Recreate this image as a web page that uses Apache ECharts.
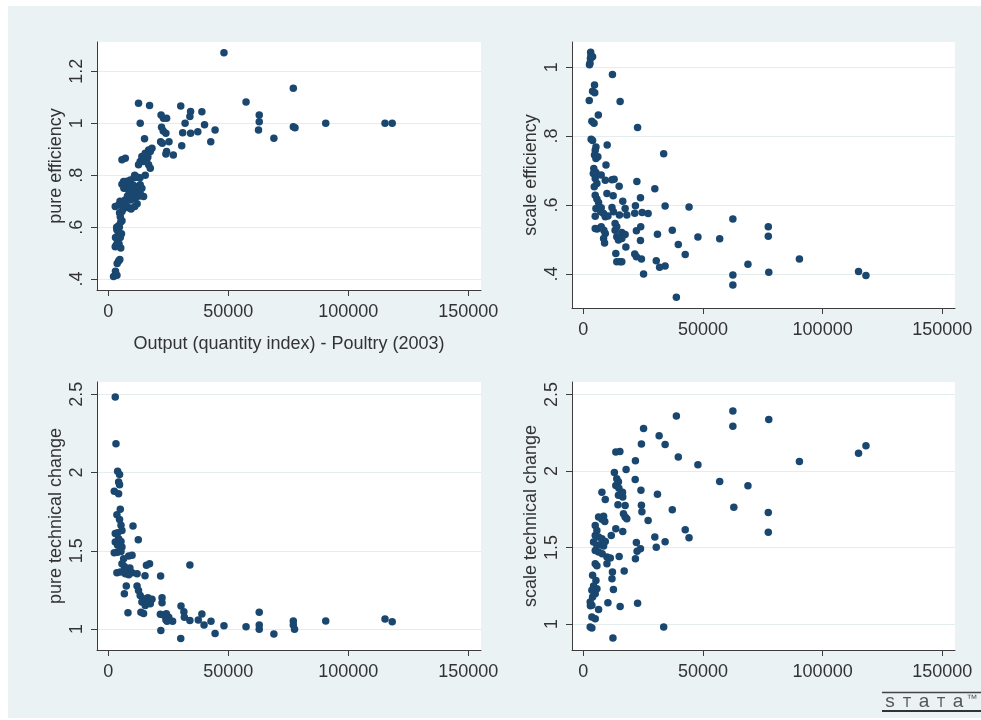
<!DOCTYPE html>
<html><head><meta charset="utf-8">
<script src="https://cdn.jsdelivr.net/npm/echarts@6/dist/echarts.min.js"></script>
<style>html,body{margin:0;padding:0;background:#fff}#c{width:981px;height:720px}</style>
</head><body><div id="c"></div>
<script>
// ---- data ----
const xTitle = 'Output (quantity index) - Poultry (2003)';
const yTitles = ['pure efficiency', 'scale efficiency', 'pure technical change', 'scale technical change'];
const xTicks = [0, 50000, 100000, 150000];
const pureEffTicks = [0.4, 0.6, 0.8, 1, 1.2];
const scaleEffTicks = [0.4, 0.6, 0.8, 1];
const techTicks = [1, 1.5, 2, 2.5];

const pureEff = [
[2200,0.41],[3000,0.43],[3600,0.415],[3700,0.46],[4300,0.47],[4800,0.475],
[2900,0.525],[3300,0.53],[3800,0.54],[4500,0.535],[5200,0.52],[3000,0.56],[4000,0.565],[5000,0.56],[5500,0.575],[3600,0.59],[4200,0.58],[4600,0.6],[3500,0.6],[4300,0.605],[5200,0.62],[5700,0.625],[5000,0.64],[4700,0.655],[5700,0.66],[6200,0.67],
[2900,0.68],[4300,0.685],[5700,0.69],[6700,0.695],[7800,0.68],[8500,0.675],[9500,0.67],[11000,0.68],[12000,0.69],[4900,0.7],[7000,0.705],[9200,0.705],[10500,0.71],[11500,0.715],[13000,0.72],[14700,0.718],[8000,0.72],[9000,0.735],[10200,0.73],[11800,0.74],[13300,0.73],[6500,0.75],[8200,0.745],[9200,0.756],[10600,0.76],[13300,0.763],[14000,0.75],[5700,0.765],[7500,0.77],[6400,0.776],[7800,0.777],[9200,0.782],[10800,0.79],[12200,0.792],[13200,0.79],[11000,0.8],[15400,0.8],
[5700,0.86],[7100,0.865],[12600,0.84],[16800,0.84],[17500,0.827],[13300,0.853],[14700,0.853],[16000,0.859],[14000,0.872],[14700,0.865],[15400,0.885],[16100,0.878],[16800,0.897],[17500,0.891],[18200,0.904],[15000,0.87],[16500,0.87],
[12600,1.077],[17200,1.068],[13300,1.0],[15100,0.94],
[22000,1.032],[23000,1.019],[24300,1.019],[22200,0.985],[22900,0.97],[24000,0.962],[21800,0.929],[22500,0.923],[25300,0.929],[24300,0.891],[24000,0.882],[27100,0.878],
[30200,1.067],[34300,1.045],[34000,1.026],[39000,1.044],[32000,1.0],[40100,0.994],[31000,0.964],[34300,0.962],[37300,0.967],[44500,0.974],[42700,0.929],[30600,0.913],
[48200,1.272],[57400,1.082],[62900,1.032],[62900,1.006],[62600,0.974],[69000,0.942],[77100,1.135],[77100,0.987],[77800,0.983],[90600,1.0],[115300,1.0],[118300,1.0]
];

const scaleEff = [
[3100,1.043],[3200,1.033],[3000,1.025],[2800,1.011],[3900,1.03],[2600,1.007],
[12200,0.979],[4700,0.948],[3900,0.93],[4800,0.926],[2500,0.903],[15400,0.9],[6300,0.861],[3600,0.843],[4500,0.837],
[3300,0.791],[3900,0.787],[10000,0.774],[5300,0.768],[5000,0.759],[4700,0.745],[5300,0.735],[6100,0.74],[9500,0.716],
[4400,0.706],[5300,0.694],[4200,0.691],[7500,0.687],[9200,0.672],[12000,0.673],[12900,0.675],[5000,0.677],[5700,0.662],[4600,0.653],[15000,0.654],[9900,0.633],[12500,0.627],[5000,0.628],[5700,0.617],[6400,0.607],[5300,0.59],[7300,0.58],[7500,0.592],[12000,0.593],[12600,0.58],[16500,0.611],[17500,0.59],[5000,0.567],[8500,0.575],[9200,0.566],[10300,0.568],[15100,0.571],[18200,0.571],
[5000,0.532],[5800,0.53],[7500,0.537],[8600,0.527],[9200,0.517],[13300,0.546],[14000,0.537],[13300,0.527],[16100,0.52],[17500,0.514],[8500,0.503],[8900,0.49],[14000,0.508],[14700,0.498],[16100,0.503],[17800,0.478],[13600,0.459],[14000,0.435],[15400,0.435],[16100,0.435],
[22700,0.825],[22400,0.668],[21800,0.598],[21500,0.576],[22200,0.525],[21500,0.458],[22200,0.45],[23900,0.621],[24000,0.537],[23900,0.497],[24300,0.443],[25200,0.4],[24600,0.578],[27100,0.575],[29900,0.647],[31000,0.515],[30500,0.438],[31900,0.419],[34200,0.423],[33600,0.749],[34200,0.597],[37200,0.527],[39700,0.485],[42600,0.456],[44200,0.594],[38900,0.332],
[47900,0.507],[57000,0.502],[62500,0.559],[62500,0.397],[62500,0.368],[68800,0.428],[77300,0.537],[77300,0.509],[77500,0.405],[90300,0.443],[115000,0.407],[118100,0.395]
];

const pureTech = [
[2900,2.483],[3200,2.185],[3900,2.008],[4700,1.987],[4300,1.94],[4700,1.923],[2500,1.88],[4300,1.865],
[5000,1.765],[3600,1.731],[4700,1.70],[5300,1.663],[10300,1.658],[2900,1.61],[3900,1.616],[5700,1.63],[4300,1.577],[5300,1.56],[2900,1.556],[3900,1.535],[5700,1.524],[12500,1.571],[3900,1.49],[5300,1.496],[2500,1.488],[8500,1.467],[9900,1.471],[6400,1.45],
[5700,1.418],[6700,1.40],[3600,1.36],[5000,1.364],[7100,1.354],[8500,1.347],[9900,1.36],[12000,1.354],[7500,1.38],[9000,1.39],[15900,1.407],[17200,1.418],[15300,1.34],
[7500,1.275],[6700,1.226],[12000,1.275],[12600,1.247],[13300,1.215],[14700,1.194],[16100,1.173],[17500,1.183],[14000,1.173],[15400,1.151],[17500,1.162],[16500,1.2],[18200,1.19],[8200,1.104],[13600,1.108],[14700,1.1],
[21800,1.339],[22400,1.2],[22400,1.168],[21700,1.095],[23000,1.09],[24200,1.098],[25200,1.075],[24000,1.06],[24500,1.05],[26800,1.049],[21900,0.99],
[30300,1.147],[31500,1.111],[31700,1.075],[34000,1.055],[37500,1.058],[34000,1.409],[39000,1.096],[39900,1.026],[42800,1.049],[44500,0.972],[30200,0.94],
[48200,1.021],[57400,1.015],[62900,1.107],[62900,1.026],[62900,0.998],[69000,0.968],[77100,1.051],[77100,1.026],[77600,0.998],[90600,1.051],[115300,1.064],[118300,1.047]
];

const scaleTech = [
[2900,0.98],[3600,0.974],[3600,1.046],[5000,1.035],[6400,1.094],[3000,1.12],[3600,1.122],[2900,1.144],[3900,1.176],[5000,1.198],[3600,1.22],[4300,1.248],[5300,1.285],[3900,1.318],[5700,1.23],[5000,1.394],[5700,1.38],[9900,1.394],[12400,0.909],[10300,1.139],[15400,1.115],[12600,1.226],[12200,1.34],[12000,1.296],[17100,1.346],
[5000,1.481],[6400,1.47],[7900,1.459],[9900,1.438],[11300,1.431],[15000,1.442],[4300,1.536],[5700,1.514],[7100,1.518],[8500,1.51],[5000,1.579],[6400,1.568],[7800,1.557],[9200,1.54],[11700,1.579],[5000,1.644],[5700,1.612],[13600,1.623],[16500,1.605],[6400,1.699],[8500,1.705],[7800,1.684],[9000,1.67],
[7800,1.862],[9200,1.814],[14500,1.78],[17500,1.775],[16800,1.72],[17500,1.699],[18200,1.688],[16500,1.83],[16400,1.862],[13000,1.99],[14000,1.95],[14700,1.93],[13600,1.906],[14900,1.888],[14700,1.841],[17900,2.01],[13600,2.125],[15300,2.128],
[21800,2.067],[21700,1.945],[22200,1.533],[22500,1.475],[21800,1.427],[22700,1.135],[24100,1.875],[24300,1.777],[24500,1.734],[23900,1.492],[24300,2.176],[25200,2.278],[27100,1.677],[29900,1.568],[30500,1.501],[31000,1.849],[31700,2.23],[34200,2.174],[34200,1.538],[33600,0.98],[37200,1.747],[38900,2.359],[39700,2.091],[42600,1.616],[44200,1.564],
[47900,2.041],[57000,1.932],[62500,2.393],[62500,2.293],[62900,1.764],[68800,1.904],[77500,2.337],[77300,1.729],[77300,1.599],[90300,2.062],[115000,2.117],[118100,2.165]
];

// ---- chart ----
const FONT = 'Liberation Sans, Arial, sans-serif';
const TXT = '#333';
const AX = '#3c3c3c';
const NAVY = '#1A476F';
const BG = '#EAF2F3';
const GRIDLINE = '#E3EDED';

const panels = [
  {grid:{left:97, top:42, width:384, height:248}, y:[0.358,1.313], yt:pureEffTicks, data:pureEff, xname:xTitle},
  {grid:{left:572, top:42, width:383, height:266}, y:[0.301,1.073], yt:scaleEffTicks, data:scaleEff, xname:''},
  {grid:{left:97, top:382, width:384, height:268}, y:[0.866,2.579], yt:techTicks, data:pureTech, xname:''},
  {grid:{left:572, top:382, width:383, height:268}, y:[0.83,2.582], yt:techTicks, data:scaleTech, xname:''}
];
const fmtY = v => String(v).replace(/^0\./, '.');
const fmtX = v => String(v);

const logoStyle = (t, size) => ({text:t, font:size+'px '+FONT, fill:'#555', verticalAlign:'middle', align:'center'});
const option = {
  animation: false,
  backgroundColor: '#fff',
  textStyle: {fontFamily: FONT},
  graphic: [
    {type:'rect', z:-10, silent:true, shape:{x:8, y:6, width:973, height:712}, style:{fill:BG}},
    {type:'line', silent:true, shape:{x1:882, y1:692.5, x2:981, y2:692.5}, style:{stroke:'#444', lineWidth:1.5}},
    {type:'line', silent:true, shape:{x1:882, y1:711, x2:981, y2:711}, style:{stroke:'#333', lineWidth:2}},
    {type:'text', silent:true, x:890, y:702, style:logoStyle('s', 19)},
    {type:'text', silent:true, x:907, y:703, style:logoStyle('T', 14)},
    {type:'text', silent:true, x:924, y:702, style:logoStyle('a', 19)},
    {type:'text', silent:true, x:941, y:703, style:logoStyle('T', 14)},
    {type:'text', silent:true, x:958, y:702, style:logoStyle('a', 19)},
    {type:'text', silent:true, x:972, y:699, style:logoStyle('™', 11)}
  ],
  grid: panels.map(p => Object.assign({show:true, backgroundColor:'#fff', borderWidth:0, containLabel:false}, p.grid)),
  xAxis: panels.map((p,i) => ({
    type:'value', gridIndex:i, min:-4700, max:155300,
    name:p.xname, nameLocation:'middle', nameGap:45,
    nameTextStyle:{fontSize:18, color:TXT, fontFamily:FONT},
    axisLine:{show:true, onZero:false, lineStyle:{color:AX, width:1}},
    axisTick:{show:true, length:6, customValues:xTicks, lineStyle:{color:AX}},
    axisLabel:{show:true, customValues:xTicks, margin:13, fontSize:18, color:TXT, fontFamily:FONT, formatter:fmtX},
    splitLine:{show:false}
  })),
  yAxis: panels.map((p,i) => ({
    type:'value', gridIndex:i, min:p.y[0], max:p.y[1],
    name:yTitles[i], nameLocation:'middle', nameGap:32, nameRotate:90,
    nameTextStyle:{fontSize:18, color:TXT, fontFamily:FONT},
    axisLine:{show:true, onZero:false, lineStyle:{color:AX, width:1}},
    axisTick:{show:true, length:6, customValues:p.yt, lineStyle:{color:AX}},
    axisLabel:{show:true, customValues:p.yt, rotate:90, margin:11, fontSize:18, color:TXT, fontFamily:FONT, formatter:fmtY},
    splitLine:{show:true, lineStyle:{color:GRIDLINE, width:1}}
  })),
  series: panels.map((p,i) => ({
    type:'scatter', xAxisIndex:i, yAxisIndex:i, data:p.data,
    symbol:'circle', symbolSize:7.5, silent:true,
    itemStyle:{color:NAVY, opacity:1}
  }))
};
const chart = echarts.init(document.getElementById('c'), null, {renderer:'canvas'});
chart.setOption(option);
</script></body></html>
